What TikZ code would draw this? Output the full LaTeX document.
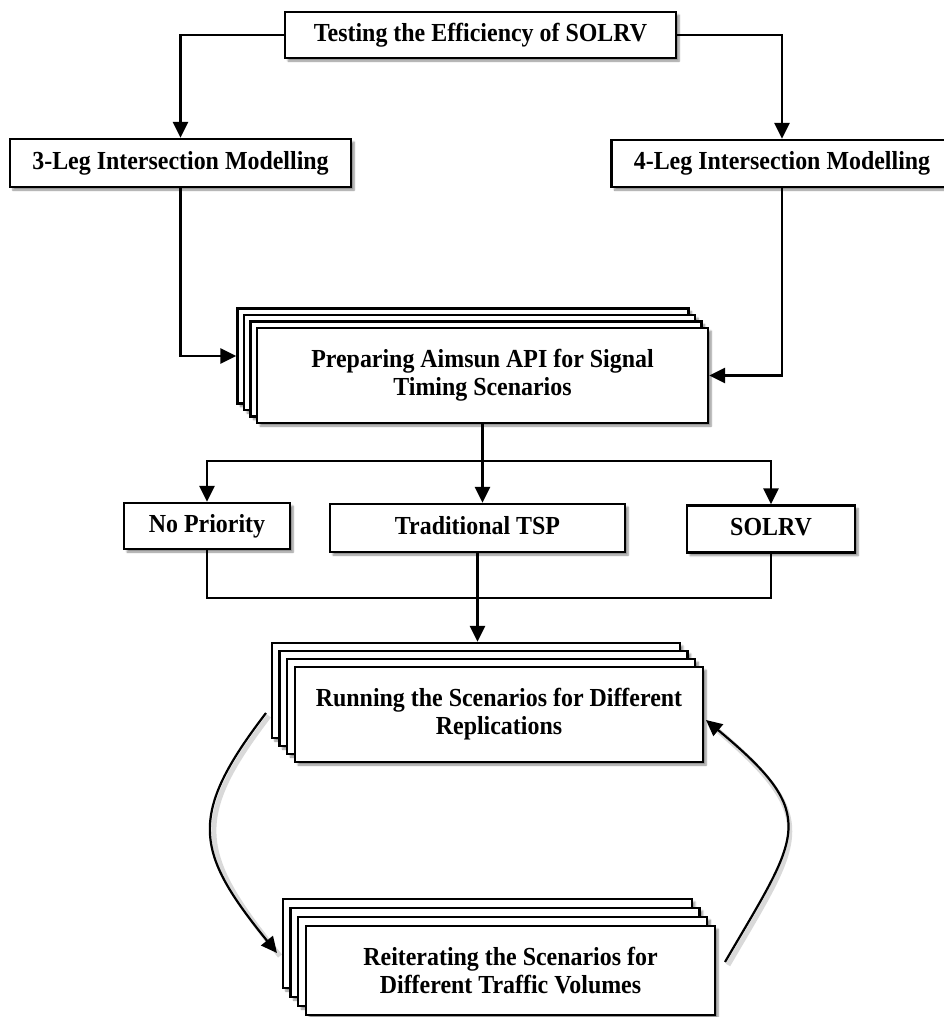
\documentclass[tikz,border=0pt]{standalone}
\usepackage{fontspec}
\setmainfont{Liberation Serif}[FakeStretch=0.92]
\usetikzlibrary{arrows.meta,calc,shadows.blur}

\tikzset{
  card/.style={draw, fill=white, line width=2.3pt,
    blur shadow={shadow xshift=3pt, shadow yshift=-3pt, shadow blur steps=6, shadow opacity=45}},
  box/.style={card, align=center, inner sep=0pt,
    font=\fontsize{26}{28}\selectfont\bfseries},
  oneline/.style={box, text height=17pt, text depth=5pt},
  link/.style={line width=2.5pt},
  arr/.style={link, -{Triangle[length=16pt,width=15pt]}},
  loopshadow/.style={line width=5pt, draw=black!15},
}

\begin{document}
\begin{tikzpicture}[x=1pt,y=-1pt]
\useasboundingbox (0,0) rectangle (944,1017);

% top level and the two intersection models
\node[oneline, minimum width=391pt, minimum height=46pt] (top) at (480.5,35) {Testing the Efficiency of SOLRV};
\node[oneline, minimum width=341pt, minimum height=48pt] (leg3) at (180.5,163) {3-Leg Intersection Modelling};
\node[oneline, minimum width=341pt, minimum height=47pt] (leg4) at (782,163.5) {4-Leg Intersection Modelling};

% stacked card: Aimsun API
\foreach \k in {3,2,1}
  \node[card, minimum width=451pt, minimum height=95pt] (prep\k) at ($(482.5,375.5)+\k*(-6.5,-6.5)$) {};
\node[box, minimum width=451pt, minimum height=95pt] (prep) at (482.5,375.5) {Preparing Aimsun API for Signal\\Timing Scenarios};

% the three signal strategies
\node[oneline, minimum width=166pt, minimum height=46pt] (nopri) at (207,526) {No Priority};
\node[oneline, minimum width=295pt, minimum height=48pt] (tsp) at (477.5,528) {Traditional TSP};
\node[oneline, minimum width=168pt, minimum height=47pt] (solrv) at (771,529) {SOLRV};

% stacked card: replications
\foreach \k in {3,2,1}
  \node[card, minimum width=408pt, minimum height=95pt] (run\k) at ($(499,714.5)+\k*(-7.7,-8)$) {};
\node[box, minimum width=408pt, minimum height=95pt] (run) at (499,714.5) {Running the Scenarios for Different\\Replications};

% stacked card: traffic volumes
\foreach \k in {3,2,1}
  \node[card, minimum width=409pt, minimum height=89pt] (reit\k) at ($(510.5,970.5)+\k*(-7.7,-9)$) {};
\node[box, minimum width=409pt, minimum height=89pt] (reit) at (510.5,970.5) {Reiterating the Scenarios for\\Different Traffic Volumes};

% connectors
\draw[arr] (top.west) -| (leg3.north);
\draw[arr] (top.east) -| (leg4.north);
\draw[arr] (leg3.south) |- (prep3.west);
\draw[arr] (leg4.south) |- (prep.east);

\coordinate (split) at (482,461);
\draw[arr] (prep.south) -- (prep.south |- tsp.north);
\draw[arr] (split) -| (nopri.north);
\draw[arr] (split) -| (solrv.north);

\coordinate (merge) at (477.5,598);
\draw[link] (nopri.south) |- (merge);
\draw[link] (solrv.south) |- (merge);
\draw[arr] (tsp.south) -- (tsp.south |- run3.north);

% feedback loop between the two stacks
\coordinate (l0) at (266,713);
\coordinate (l1) at (277,953);
\coordinate (r0) at (725,962);
\coordinate (r1) at (706,720);
\draw[loopshadow] ([shift={(3,3)}]l0) .. controls (190,819) and (198,855) .. ([shift={(3,3)}]l1);
\draw[loopshadow] ([shift={(3,3)}]r0) .. controls (803,836) and (824,819) .. ([shift={(3,3)}]r1);
\draw[arr, line width=2.2pt] (l0) .. controls (187,816) and (195,852) .. (l1);
\draw[arr, line width=2.2pt] (r0) .. controls (800,833) and (821.5,816) .. (r1);
\end{tikzpicture}
\end{document}
